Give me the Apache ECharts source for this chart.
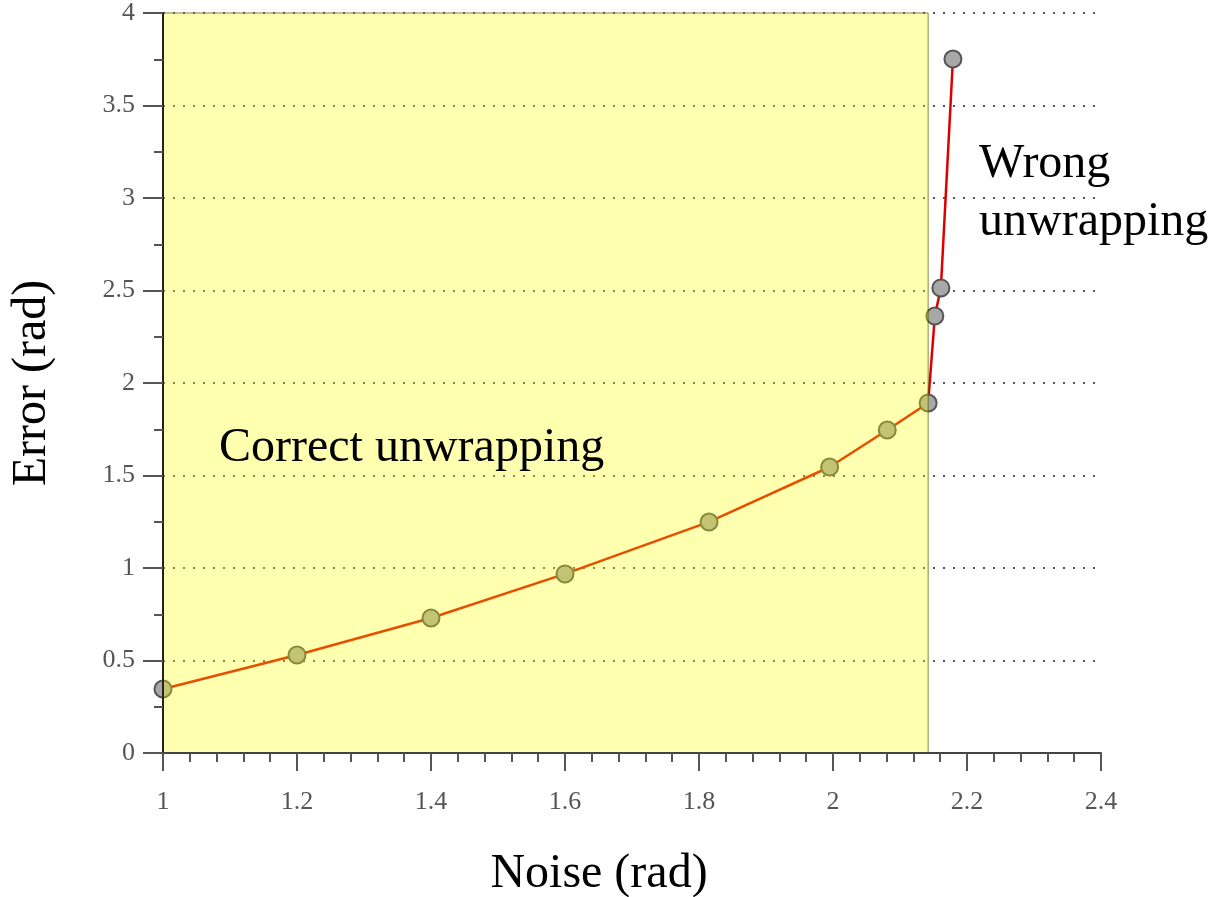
<!DOCTYPE html>
<html>
<head>
<meta charset="utf-8">
<script src="https://cdn.jsdelivr.net/npm/echarts@6/dist/echarts.min.js"></script>
<style>html,body{margin:0;padding:0;background:#fff}#c{width:1227px;height:897px}</style>
</head>
<body>
<div id="c"></div>
<script>
const noise = [1.0, 1.2, 1.4, 1.6, 1.815, 1.995, 2.081, 2.142, 2.152, 2.161, 2.179];
const error = [0.346, 0.53, 0.73, 0.968, 1.249, 1.546, 1.746, 1.892, 2.362, 2.514, 3.751];
const correctLimit = 2.142;
const xTicks = [1, 1.2, 1.4, 1.6, 1.8, 2, 2.2, 2.4];
const yTicks = [0, 0.5, 1, 1.5, 2, 2.5, 3, 3.5, 4];
const labels = { correct: 'Correct unwrapping', wrong: 'Wrong\nunwrapping', xName: 'Noise (rad)', yName: 'Error (rad)' };

const serif = '"Liberation Serif", "DejaVu Serif", serif';
const chart = echarts.init(document.getElementById('c'), null, { renderer: 'canvas' });
const pts = noise.map((x, i) => [x, error[i]]);
const yMin = yTicks[0], yMax = yTicks[yTicks.length - 1];

chart.setOption({
  animation: false,
  backgroundColor: '#fff',
  grid: { left: 163, right: 126, top: 13, bottom: 144, containLabel: false, outerBoundsMode: 'none' },
  xAxis: {
    type: 'value', min: xTicks[0], max: xTicks[xTicks.length - 1], interval: 0.2, z: 10,
    name: labels.xName, nameLocation: 'middle', nameGap: 97,
    nameTextStyle: { fontFamily: serif, fontSize: 48, color: '#000', padding: [0, 66, 0, 0] },
    axisLine: { show: true, onZero: false, lineStyle: { color: '#444', width: 2 } },
    axisTick: { show: true, length: 18, lineStyle: { color: '#555', width: 2 } },
    minorTick: { show: true, splitNumber: 5, length: 9, lineStyle: { color: '#555', width: 2 } },
    axisLabel: { margin: 36, fontFamily: serif, fontSize: 26, color: '#555',
      formatter: v => String(+v.toFixed(2)) },
    splitLine: { show: false }
  },
  yAxis: [{
    type: 'value', min: yMin, max: yMax, interval: 0.5,
    axisLine: { show: false }, axisTick: { show: false }, axisLabel: { show: false },
    splitLine: { show: true, lineStyle: { color: '#555', width: 2, type: [2, 8] } }
  }, {
    type: 'value', min: yMin, max: yMax, interval: 0.5, z: 10,
    position: 'left',
    name: labels.yName, nameLocation: 'middle', nameGap: 107, nameRotate: 90,
    nameTextStyle: { fontFamily: serif, fontSize: 48, color: '#000' },
    axisLine: { show: true, lineStyle: { color: '#222', width: 2 } },
    axisTick: { show: true, length: 20, lineStyle: { color: '#555', width: 2 } },
    minorTick: { show: true, splitNumber: 2, length: 9, lineStyle: { color: '#555', width: 2 } },
    axisLabel: { margin: 28, fontFamily: serif, fontSize: 26, color: '#555' },
    splitLine: { show: false }
  }],
  series: [{
    type: 'line', yAxisIndex: 0, data: pts, z: 2,
    symbol: 'circle', symbolSize: 17, clip: false,
    lineStyle: { color: '#dd0000', width: 2.5 },
    itemStyle: { color: '#a8a8a8', borderColor: '#555', borderWidth: 2 }
  }, {
    type: 'custom', yAxisIndex: 0, z: 5, silent: true,
    data: [[xTicks[0], yMin, correctLimit, yMax]],
    encode: { x: [0, 2], y: [1, 3] },
    renderItem: function (params, api) {
      const p0 = api.coord([api.value(0), api.value(1)]);
      const p1 = api.coord([api.value(2), api.value(3)]);
      return {
        type: 'rect',
        shape: { x: p0[0], y: p1[1], width: p1[0] - p0[0], height: p0[1] - p1[1] },
        style: { fill: 'rgba(255,255,0,0.31)', stroke: 'rgba(90,90,0,0.75)', lineWidth: 1 }
      };
    }
  }],
  graphic: [
    { type: 'text', z: 100, left: 219, top: 424, style: { text: labels.correct, font: '48px ' + serif, fill: '#000' } },
    { type: 'text', z: 100, left: 979, top: 135, style: { text: labels.wrong, font: '48px ' + serif, fill: '#000', lineHeight: 58 } }
  ]
});
</script>
</body>
</html>
